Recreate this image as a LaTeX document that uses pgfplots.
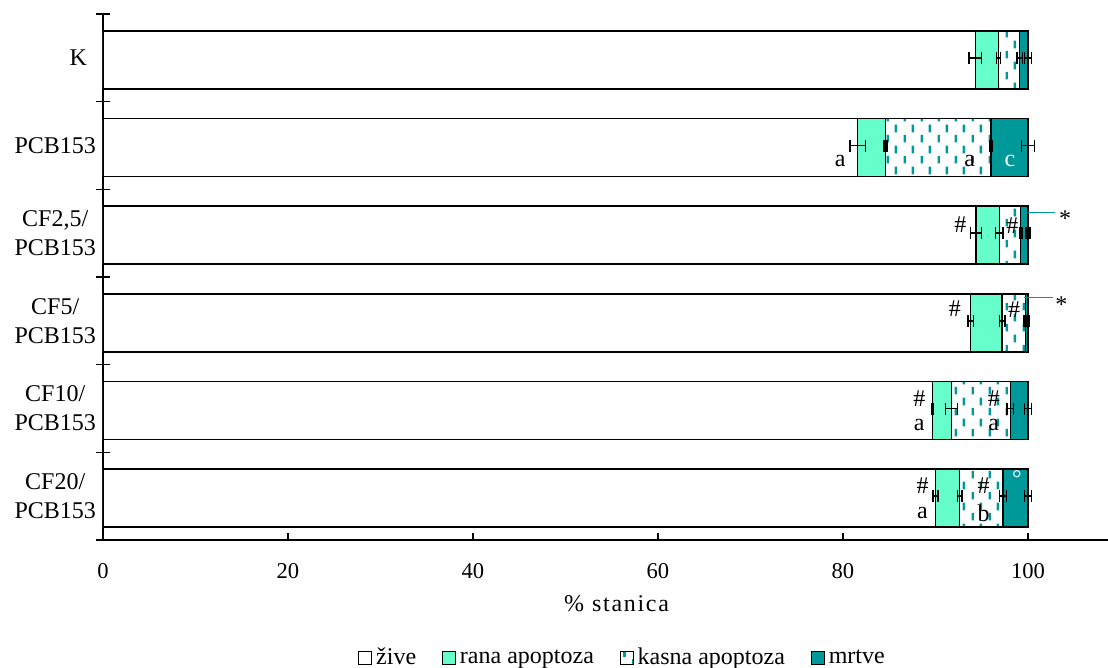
\documentclass[border=0pt]{standalone}
\usepackage{fontspec}
\setmainfont{Liberation Serif}
\usepackage{pgfplots}
\pgfplotsset{compat=1.18}
\usetikzlibrary{patterns,calc}
\definecolor{aqua}{HTML}{66FFCC}
\definecolor{tealc}{HTML}{009999}

\pgfdeclarepatternformonly{vdash}{\pgfqpoint{0pt}{0pt}}{\pgfqpoint{8.5pt}{10.5pt}}{\pgfqpoint{8.5pt}{10.5pt}}{%
  \pgfsetlinewidth{1.2pt}%
  \pgfpathmoveto{\pgfqpoint{2pt}{0.3pt}}\pgfpathlineto{\pgfqpoint{2pt}{4.3pt}}%
  \pgfpathmoveto{\pgfqpoint{6.25pt}{5.55pt}}\pgfpathlineto{\pgfqpoint{6.25pt}{9.55pt}}%
  \pgfusepath{stroke}}

\tikzset{annot/.style={inner sep=0pt, anchor=center, font=\fontsize{12}{14.4}\selectfont}}

% segment widths
\pgfplotstableread{
y  zive  rana  kasna  mrtve
0  94.3  2.5   2.3    0.9
1  81.6  3.0   11.4   4.0
2  94.4  2.5   2.3    0.8
3  93.8  3.4   2.5    0.3
4  89.7  2.0   6.4    1.9
5  90.0  2.6   4.7    2.7
}\bars
% cumulative ends with errors
\pgfplotstableread{
y  x      e
0  94.3   0.7
0  96.8   0.2
0  99.1   0.3
0  100.0  0.4
1  81.6   0.85
1  84.6   0.15
1  96.0   0.15
1  100.0  0.7
2  94.4   0.6
2  96.9   0.4
2  99.2   0.15
2  100.0  0.2
3  93.8   0.3
3  97.2   0.3
3  99.7   0.15
3  100.0  0.1
4  89.7   0.1
4  91.7   0.65
4  98.1   0.35
4  100.0  0.35
5  90.0   0.27
5  92.6   0.25
5  97.3   0.35
5  100.0  0.35
}\errs

\pgfplotsset{
  mycommon/.style={
    scale only axis, width=502.5pt, height=263pt,
    xmin=0, xmax=108.65, ymin=-0.5, ymax=5.5, y dir=reverse,
    font=\fontsize{12}{14.4}\selectfont,
  }
}

\begin{document}
\begin{tikzpicture}
\begin{axis}[
  mycommon, name=main,
  xbar stacked, bar width=29pt, bar shift=-1pt,
  axis x line=bottom, axis y line=left, axis line style={-, black, line width=0.6pt},
  /pgf/number format/assume math mode=true,
  xtick={0,20,...,100},
  xticklabel style={yshift=-8pt, font=\fontsize{11.3}{13.6}\selectfont},
  tick align=inside,
  major x tick style={black, line width=0.6pt},
  major tick length=3.5pt,
  ytick={0,...,5},
  yticklabels={{K\hspace*{4.5pt}},PCB153,{CF2,5/\\PCB153},{CF5/\\PCB153},{CF10/\\PCB153},{CF20/\\PCB153}},
  yticklabel style={align=center},
  major y tick style={draw=none},
  minor ytick={-0.5,0.5,...,5.5},
  minor tick length=6.5pt,
  minor y tick style={black, line width=0.6pt, xshift=-3.25pt},
  xlabel={\addfontfeatures{LetterSpace=7}\%\,\,stanica},
  xlabel style={at={(axis description cs:0.511,0)}, anchor=center, yshift=-32pt},
  legend style={at={(0.518,-0.2243)}, anchor=center, draw=none, fill=none,
    legend columns=4, /tikz/every even column/.append style={column sep=11pt},
    font=\fontsize{12}{14.4}\selectfont},
  legend image code/.code={\draw[#1, line width=0.5pt] (0pt,-3.2pt) rectangle (6.4pt,3.2pt);},
  every axis plot/.append style={draw=black, line width=0.7pt},
]
\addplot[fill=white] table[x=zive, y=y] {\bars};
\addplot[fill=aqua] table[x=rana, y=y] {\bars};
\addplot[pattern=vdash, pattern color=tealc] table[x=kasna, y=y] {\bars};
\addplot[fill=tealc] table[x=mrtve, y=y] {\bars};
\legend{ž{}ive, rana apoptoza, kasna apoptoza, mrtve}
\end{axis}

\begin{axis}[mycommon, hide axis]
\addplot[draw=none, mark=none,
  error bars/.cd, x dir=both, x explicit, error mark=|,
  error bar style={draw=black, line width=0.7pt},
  error mark options={draw=black, line width=0.7pt, mark size=3pt}]
  table[x=x, y=y, x error=e] {\errs};
\node[annot] at (axis cs:79.7,1.177) {a};
\node[annot] at (axis cs:93.7,1.177) {a};
\node[annot, text=white] at (axis cs:98.05,1.177) {c};
\node[annot] at (axis cs:92.7,1.899) {\#};
\node[annot] at (axis cs:98.3,1.915) {\#};
\node[annot] at (axis cs:104.0,1.83) {*};
\node[annot] at (axis cs:92.1,2.865) {\#};
\node[annot] at (axis cs:98.5,2.876) {\#};
\node[annot] at (axis cs:103.6,2.81) {*};
\node[annot] at (axis cs:88.25,3.883) {\#};
\node[annot] at (axis cs:88.25,4.188) {a};
\node[annot] at (axis cs:96.3,3.883) {\#};
\node[annot] at (axis cs:96.3,4.188) {a};
\node[annot] at (axis cs:88.6,4.876) {\#};
\node[annot] at (axis cs:88.6,5.192) {a};
\node[annot] at (axis cs:95.2,4.876) {\#};
\node[annot] at (axis cs:95.2,5.192) {b};
\node[annot, text=white] at (axis cs:98.8,4.80) {°};
\draw[tealc, line width=0.7pt] (axis cs:100,1.762) -- (axis cs:102.9,1.762);
\draw[tealc, line width=0.7pt] (axis cs:99.6,2.736) -- (axis cs:102.7,2.736);
\end{axis}

\pgfresetboundingbox
\path[use as bounding box] ($(main.south west)+(-51.5pt,-64pt)$) rectangle ($(main.north east)+(0pt,7pt)$);
\end{tikzpicture}
\end{document}
